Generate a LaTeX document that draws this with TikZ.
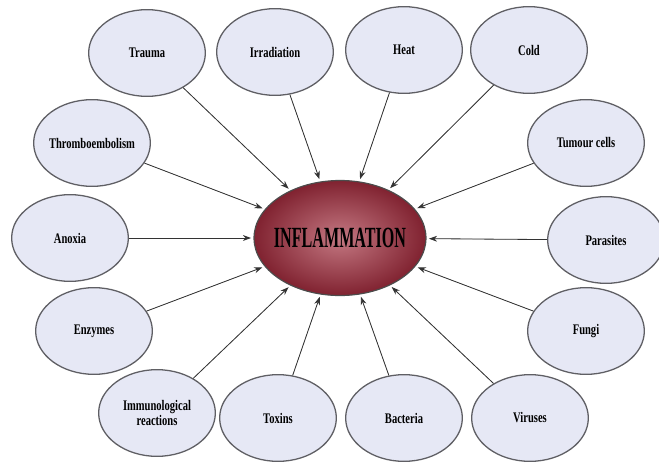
\documentclass[tikz,border=0pt]{standalone}
\usepackage{fontspec}
\setmainfont{Liberation Serif}
\newfontfamily\condfont[FakeStretch=0.72]{Liberation Serif}
\newfontfamily\bigfont[FakeStretch=0.55]{Liberation Serif}
\usetikzlibrary{arrows.meta,shapes.geometric}
\definecolor{lav}{RGB}{230,232,245}
\definecolor{rim}{RGB}{95,95,100}
\definecolor{maroon}{RGB}{128,34,48}
\definecolor{rose}{RGB}{196,120,130}

\begin{document}
\begin{tikzpicture}[x=0.03cm, y=-0.03cm,
    cause/.style={draw=rim, ellipse, line width=1.1pt, fill=lav, minimum width=3.5cm, minimum height=2.6cm, align=center, inner xsep=-10pt, inner ysep=0pt, font=\condfont\bfseries\fontsize{12.5}{13.5}\selectfont},
    hub/.style={draw=black!70, ellipse, line width=1pt, inner color=rose, outer color=maroon, minimum width=5.1cm, minimum height=3.45cm, inner xsep=-4.5pt, inner ysep=0pt, font=\bigfont\bfseries\fontsize{25}{26}\selectfont},
    arr/.style={-{Stealth[length=7pt,width=5pt]}, line width=0.7pt, draw=black!80, fill=black!80, shorten >=2pt}
]
\useasboundingbox (0,0) rectangle (659,466);
\node[hub] (infl) at (340,238) {INFLAMMATION};

\node[cause] (trauma) at (147,53) {Trauma};
\node[cause] (irrad) at (275,52) {Irradiation};
\node[cause] (heat) at (404,50) {Heat};
\node[cause] (cold) at (529,50) {Cold};
\node[cause] (thrombo) at (92,143) {Thromboembolism};
\node[cause] (tumour) at (586,143) {Tumour cells};
\node[cause] (anoxia) at (70,238) {Anoxia};
\node[cause] (paras) at (606,240) {Parasites};
\node[cause] (enzymes) at (94,331) {Enzymes};
\node[cause] (fungi) at (586,331) {Fungi};
\node[cause] (immuno) at (157,413) {Immunological\\reactions};
\node[cause] (toxins) at (278,418) {Toxins};
\node[cause] (bact) at (404,418) {Bacteria};
\node[cause] (viruses) at (530,418) {Viruses};

\draw[arr] (trauma) -- (infl);
\draw[arr] (irrad) -- (infl);
\draw[arr] (heat) -- (infl);
\draw[arr] (cold) -- (infl);
\draw[arr] (thrombo) -- (infl);
\draw[arr] (tumour) -- (infl);
\draw[arr] (anoxia) -- (infl);
\draw[arr] (paras) -- (infl);
\draw[arr] (enzymes) -- (infl);
\draw[arr] (fungi) -- (infl);
\draw[arr] (immuno) -- (infl);
\draw[arr] (toxins) -- (infl);
\draw[arr] (bact) -- (infl);
\draw[arr] (viruses) -- (infl);
\end{tikzpicture}
\end{document}
